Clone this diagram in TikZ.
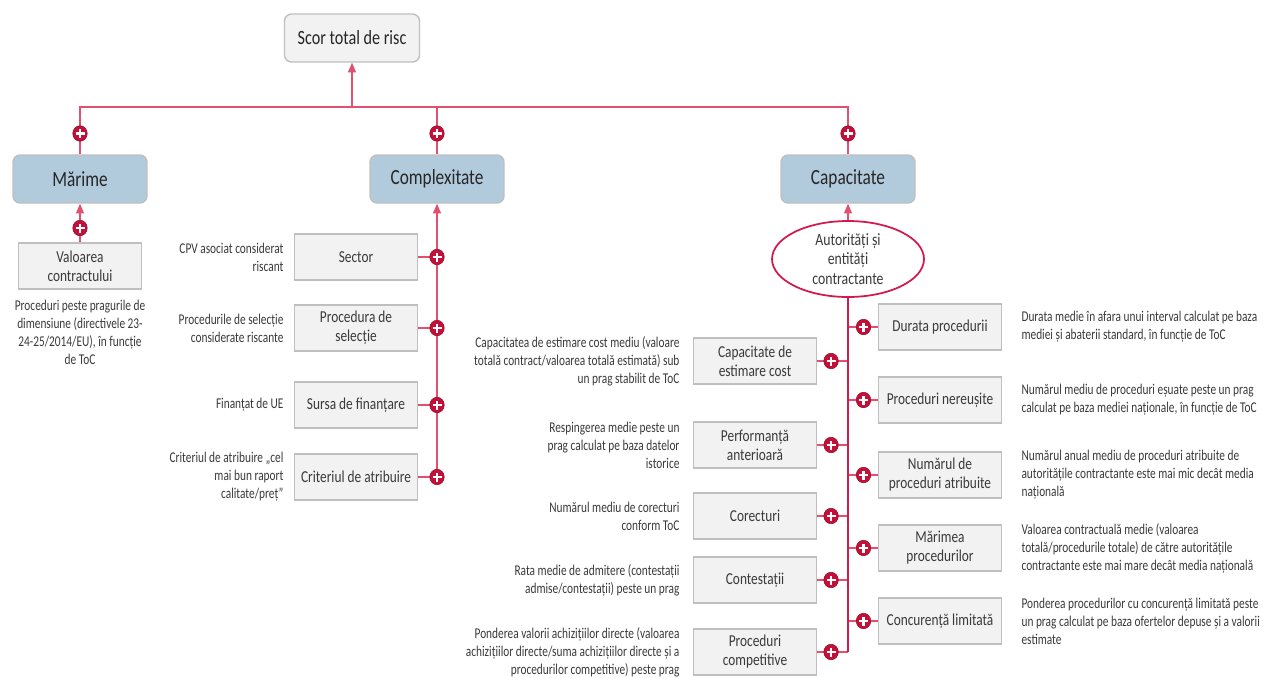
\documentclass[tikz,border=0pt]{standalone}
\usepackage{fontspec}
\setmainfont{Carlito}[FakeStretch=0.8]
\newfontfamily\notefont{Carlito}[FakeStretch=0.76]
\usetikzlibrary{shapes.geometric, arrows.meta, positioning}

\begin{document}
\begin{tikzpicture}[
    x=0.02cm, y=-0.02cm,
    node distance=0.2cm,
    >={Triangle[width=4.5pt,length=5.5pt]},
    % --- Styles ---
    root/.style={
        rectangle, minimum width=2.7cm, minimum height=0.96cm,
        rounded corners=4pt, fill=box_fill, draw=box_border, line width=0.8pt,
        text=black!85, font=\fontsize{11.5}{13}\selectfont
    },
    category/.style={
        rectangle, minimum width=2.68cm, minimum height=0.96cm,
        rounded corners=4pt, fill=cat_fill, draw=box_border, line width=0.8pt,
        text=black!85, font=\fontsize{12.3}{14}\selectfont
    },
    factor/.style={
        rectangle, minimum width=2.46cm, minimum height=0.92cm,
        fill=box_fill, draw=box_border, line width=0.8pt, align=center,
        text=txt_grey, font=\fontsize{9.5}{10.8}\selectfont
    },
    oval/.style={
        ellipse, minimum width=3.04cm, minimum height=1.52cm, inner sep=0pt,
        fill=white, draw=oval_red, line width=1pt, align=center,
        text=txt_grey, font=\fontsize{9.8}{11.2}\selectfont
    },
    note/.style={inner sep=0pt, text=txt_grey, font=\notefont\fontsize{8.5}{10.2}\selectfont},
    link/.style={draw=link_red, line width=0.75pt},
    spine/.style={draw=oval_red, line width=1pt},
    arrow/.style={link, ->},
    plus/.style={
        ellipse, minimum width=0.29cm, minimum height=0.31cm, inner sep=0pt,
        fill=plus_red, draw=plus_red!75!black, line width=0.3pt,
        path picture={
            \draw[white, -, line width=1.4pt]
                ([xshift=-0.09cm]path picture bounding box.center) --
                ([xshift=0.09cm]path picture bounding box.center);
            \draw[white, -, line width=1.4pt]
                ([yshift=-0.09cm]path picture bounding box.center) --
                ([yshift=0.09cm]path picture bounding box.center);
        }
    }
]

    % ── Colour Palette ──────────────────────────────────────────────────
    \definecolor{link_red}{RGB}{226, 80, 112}
    \definecolor{plus_red}{RGB}{196, 16, 56}
    \definecolor{oval_red}{RGB}{210, 26, 76}
    \definecolor{box_fill}{RGB}{242, 242, 242}
    \definecolor{box_border}{RGB}{191, 191, 191}
    \definecolor{cat_fill}{RGB}{177, 203, 221}
    \definecolor{txt_grey}{RGB}{58, 58, 58}

    \useasboundingbox (0,0) rectangle (1263,677);

    % ── NODES ───────────────────────────────────────────────────────────

    % Top
    \node (total) [root] at (352,38) {Scor total de risc};

    % Categories
    \node (marime)  [category] at (80,179)  {Mărime};
    \node (complex) [category] at (437,179) {Complexitate};
    \node (capac)   [category] at (848,179) {Capacitate};

    % Mărime
    \node (valoare) [factor] at (80,266) {Valoarea\\contractului};
    \node (valoare_note) [note, align=center, below=0.2cm of valoare]
        {Proceduri peste pragurile de\\dimensiune (directivele 23-\\24-25/2014/EU), în funcție\\de ToC};

    % Complexitate
    \node (sector)    [factor] at (356,257) {Sector};
    \node (selectie)  [factor] at (356,328) {Procedura de\\selecție};
    \node (finantare) [factor] at (356,405) {Sursa de finanțare};
    \node (atribuire) [factor] at (356,477) {Criteriul de atribuire};

    \node (sector_note)    [note, align=right, left=of sector]
        {CPV asociat considerat\\riscant};
    \node (selectie_note)  [note, align=right, left=of selectie]
        {Procedurile de selecție\\considerate riscante};
    \node (finantare_note) [note, align=right, left=of finantare]
        {Finanțat de UE};
    \node (atribuire_note) [note, align=right, left=of atribuire]
        {Criteriul de atribuire „cel\\mai bun raport\\calitate/preț”};

    % Capacitate
    \node (autoritati) [oval] at (848,259) {Autorități și\\entități\\contractante};

    % Capacitate -- right side
    \node (durata)    [factor] at (940,327) {Durata procedurii};
    \node (nereusite) [factor] at (940,400) {Proceduri nereușite};
    \node (atribuite) [factor] at (940,475) {Numărul de\\proceduri atribuite};
    \node (marimea)   [factor] at (940,548) {Mărimea\\procedurilor};
    \node (concurenta)[factor] at (940,621) {Concurență limitată};

    \node (durata_note)    [note, align=left, right=0.38cm of durata]
        {Durata medie în afara unui interval calculat pe baza\\mediei și abaterii standard, în funcție de ToC};
    \node (nereusite_note) [note, align=left, right=0.38cm of nereusite]
        {Numărul mediu de proceduri eșuate peste un prag\\calculat pe baza mediei naționale, în funcție de ToC};
    \node (atribuite_note) [note, align=left, right=0.38cm of atribuite]
        {Numărul anual mediu de proceduri atribuite de\\autoritățile contractante este mai mic decât media\\națională};
    \node (marimea_note)   [note, align=left, right=0.38cm of marimea]
        {Valoarea contractuală medie (valoarea\\totală/procedurile totale) de către autoritățile\\contractante este mai mare decât media națională};
    \node (concurenta_note)[note, align=left, right=0.38cm of concurenta]
        {Ponderea procedurilor cu concurență limitată peste\\un prag calculat pe baza ofertelor depuse și a valorii\\estimate};

    % Capacitate -- left side
    \node (estimare)    [factor] at (755,361) {Capacitate de\\estimare cost};
    \node (performanta) [factor] at (755,445) {Performanță\\anterioară};
    \node (corecturi)   [factor] at (755,516) {Corecturi};
    \node (contestatii) [factor] at (755,580) {Contestații};
    \node (competitive) [factor] at (755,652) {Proceduri\\competitive};

    \node (estimare_note)    [note, align=right, left=0.26cm of estimare]
        {Capacitatea de estimare cost mediu (valoare\\totală contract/valoarea totală estimată) sub\\un prag stabilit de ToC};
    \node (performanta_note) [note, align=right, left=0.26cm of performanta]
        {Respingerea medie peste un\\prag calculat pe baza datelor\\istorice};
    \node (corecturi_note)   [note, align=right, left=0.26cm of corecturi]
        {Numărul mediu de corecturi\\conform ToC};
    \node (contestatii_note) [note, align=right, left=0.26cm of contestatii]
        {Rata medie de admitere (contestații\\admise/contestații) peste un prag};
    \node (competitive_note) [note, align=right, left=0.26cm of competitive]
        {Ponderea valorii achizițiilor directe (valoarea\\achizițiilor directe/suma achizițiilor directe și a\\procedurilor competitive) peste prag};

    % ── ARROWS ──────────────────────────────────────────────────────────

    % Categories -> total
    \coordinate (hub) at (352,107);
    \draw [arrow] (hub) -- (total);
    \draw [link] (marime.north)  |- node[plus, pos=0.22] {} (hub);
    \draw [link] (complex.north) |- node[plus, pos=0.22] {} (hub);
    \draw [link] (capac.north)   |- node[plus, pos=0.22] {} (hub);

    % Mărime
    \draw [arrow] (valoare.north) -- node[plus, pos=0.37] {} (marime.south);

    % Complexitate spine
    \draw [arrow] (complex.south |- atribuire.east) -- (complex.south);
    \foreach \f in {sector, selectie, finantare, atribuire}
        \draw [link] (\f.east) -- (\f.east -| complex.south) node[plus] {};

    % Capacitate spine
    \draw [arrow] (autoritati.north) -- (capac.south);
    \foreach \f in {durata, nereusite, atribuite, marimea, concurenta}
        \draw [link] (\f.west -| autoritati.south) -- node[plus, pos=0.52] {} (\f.west);
    \foreach \f in {estimare, performanta, corecturi, contestatii, competitive}
        \draw [link] (\f.east) -- node[plus, pos=0.45] {} (\f.east -| autoritati.south);
    \draw [spine] (autoritati.south) -- (autoritati.south |- competitive.east);

\end{tikzpicture}
\end{document}
